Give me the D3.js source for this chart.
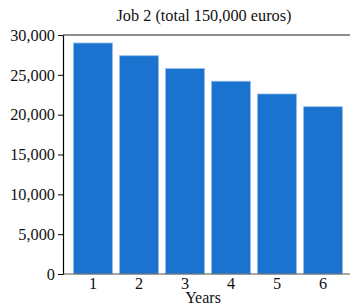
<!DOCTYPE html>
<html>
<head>
<meta charset="utf-8">
<script src="https://cdn.jsdelivr.net/npm/d3@7"></script>
<style>
  body { margin: 0; background: #fff; }
  svg text { font-family: "Liberation Serif", "DejaVu Serif", serif; fill: #111; }
</style>
</head>
<body>
<div id="chart"></div>
<script>
const years = ["1", "2", "3", "4", "5", "6"];
const amounts = [29000, 27400, 25800, 24200, 22600, 21000];
const yTicks = [0, 5000, 10000, 15000, 20000, 25000, 30000];
const title = "Job 2 (total 150,000 euros)";
const xTitle = "Years";

const width = 350, height = 307;
const margin = {left: 63, right: 0, top: 35, bottom: 33};

const svg = d3.select("#chart").append("svg")
  .attr("width", width)
  .attr("height", height);

const x = d3.scaleBand()
  .domain(years)
  .range([70, 346])
  .paddingInner(0.15)
  .paddingOuter(0.075);

const y = d3.scaleLinear()
  .domain([0, 30000])
  .range([height - margin.bottom, margin.top]);

// bars
svg.append("g").selectAll("rect")
  .data(years)
  .join("rect")
  .attr("x", d => x(d))
  .attr("y", (d, i) => y(amounts[i]))
  .attr("width", x.bandwidth())
  .attr("height", (d, i) => y(0) - y(amounts[i]))
  .attr("fill", "#1a73cf")
  .attr("stroke", "#9cc0ec")
  .attr("stroke-width", 0.8);

// top frame line
svg.append("line")
  .attr("x1", margin.left).attr("x2", width)
  .attr("y1", margin.top).attr("y2", margin.top)
  .attr("stroke", "#666").attr("stroke-width", 1.5);

// x axis
const xAxis = svg.append("g")
  .attr("transform", "translate(0," + y(0) + ")")
  .call(d3.axisBottom(x).tickSize(0).tickPadding(3));
xAxis.select(".domain").remove();
xAxis.append("line")
  .attr("x1", margin.left).attr("x2", width)
  .attr("stroke", "#555").attr("stroke-width", 1.2);
xAxis.selectAll("text").attr("font-size", 16.3).style("font-family", "Liberation Serif");

// y axis
const yAxis = svg.append("g")
  .attr("transform", "translate(" + margin.left + ",0)")
  .call(d3.axisLeft(y).tickValues(yTicks).tickFormat(d3.format(",")).tickSize(5).tickSizeOuter(0).tickPadding(3));
yAxis.select(".domain").attr("stroke", "#000").attr("stroke-width", 1.2);
yAxis.selectAll(".tick line").attr("stroke", "#000");
yAxis.selectAll("text").attr("font-size", 16.3).style("font-family", "Liberation Serif");

// title
svg.append("text")
  .attr("x", 204).attr("y", 21)
  .attr("text-anchor", "middle")
  .attr("font-size", 16.3)
  .text(title);

// x title
svg.append("text")
  .attr("x", 203).attr("y", 303)
  .attr("text-anchor", "middle")
  .attr("font-size", 16)
  .text(xTitle);
</script>
</body>
</html>
